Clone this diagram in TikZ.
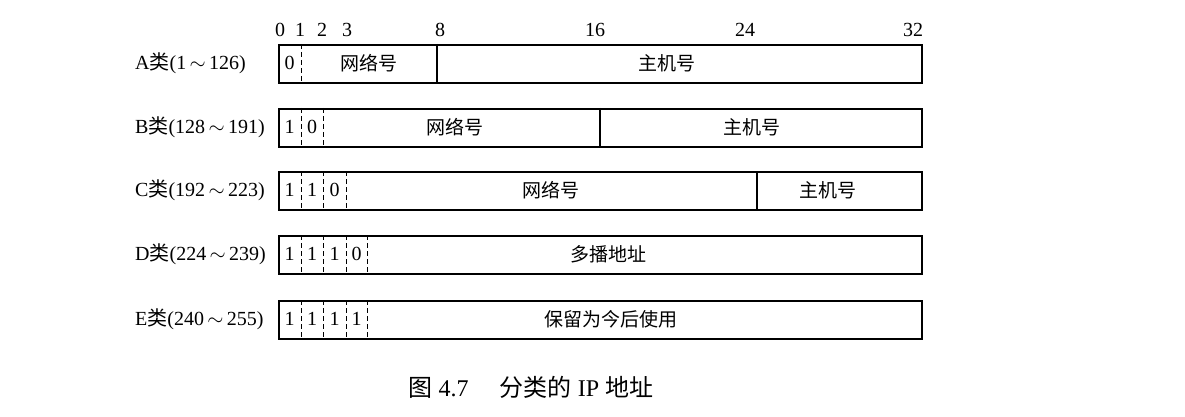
\documentclass[tikz,border=0pt]{standalone}
\usepackage{fontspec}
\setmainfont{Liberation Serif}
\newfontfamily\cjk{Noto Sans CJK SC}
\begin{document}
\begin{tikzpicture}[x=1pt,y=-1pt,
  rowbox/.style={draw, line width=1.6pt, minimum width=643pt, minimum height=38pt, anchor=north west, inner sep=0pt},
  dashdiv/.style={line width=0.9pt, dash pattern=on 5pt off 3pt},
  soliddiv/.style={line width=1.3pt},
  txt/.style={font=\fontsize{20}{22}\selectfont, inner sep=0pt},
  cjktxt/.style={font=\cjk\fontsize{19}{22}\selectfont, inner sep=0pt},
  rowlbl/.style={font=\fontsize{20}{22}\selectfont, inner sep=0pt, anchor=west}
]
\useasboundingbox (0,0) rectangle (1185,417);

% bit positions
\foreach \n/\x in {0/280,1/300,2/322,3/347,8/440,16/595,24/745,32/913}
  \node[txt] (bit\n) at (\x,30) {\n};

% row A
\node[rowbox] (rA) at (278,44) {};
\node[rowlbl] (lA) at (135,63) {A{\cjk 类}(1\,$\sim$\,126)};
\draw[dashdiv] (301,44) -- (301,82);
\draw[soliddiv] (437,44) -- (437,82);
\node[txt] (a0) at (289.5,63) {0};
\node[cjktxt] (anet) at (369,63) {网络号};
\node[cjktxt] (ahost) at (667,63) {主机号};

% row B
\node[rowbox] (rB) at (278,108) {};
\node[rowlbl] (lB) at (135,127) {B{\cjk 类}(128\,$\sim$\,191)};
\draw[dashdiv] (301,108) -- (301,146);
\draw[dashdiv] (323,108) -- (323,146);
\draw[soliddiv] (600,108) -- (600,146);
\node[txt] (b0) at (289.5,127) {1};
\node[txt] (b1) at (312,127) {0};
\node[cjktxt] (bnet) at (455,127) {网络号};
\node[cjktxt] (bhost) at (752,127) {主机号};

% row C
\node[rowbox] (rC) at (278,171) {};
\node[rowlbl] (lC) at (135,190) {C{\cjk 类}(192\,$\sim$\,223)};
\draw[dashdiv] (301,171) -- (301,209);
\draw[dashdiv] (323,171) -- (323,209);
\draw[dashdiv] (346,171) -- (346,209);
\draw[soliddiv] (757,171) -- (757,209);
\node[txt] (c0) at (289.5,190) {1};
\node[txt] (c1) at (312,190) {1};
\node[txt] (c2) at (334.5,190) {0};
\node[cjktxt] (cnet) at (551,190) {网络号};
\node[cjktxt] (chost) at (828,190) {主机号};

% row D
\node[rowbox] (rD) at (278,235) {};
\node[rowlbl] (lD) at (135,254) {D{\cjk 类}(224\,$\sim$\,239)};
\draw[dashdiv] (301,235) -- (301,273);
\draw[dashdiv] (323,235) -- (323,273);
\draw[dashdiv] (346,235) -- (346,273);
\draw[dashdiv] (367,235) -- (367,273);
\node[txt] (d0) at (289.5,254) {1};
\node[txt] (d1) at (312,254) {1};
\node[txt] (d2) at (334.5,254) {1};
\node[txt] (d3) at (356.5,254) {0};
\node[cjktxt] (dtxt) at (608,254) {多播地址};

% row E
\node[rowbox] (rE) at (278,300) {};
\node[rowlbl] (lE) at (135,319) {E{\cjk 类}(240\,$\sim$\,255)};
\draw[dashdiv] (301,300) -- (301,338);
\draw[dashdiv] (323,300) -- (323,338);
\draw[dashdiv] (346,300) -- (346,338);
\draw[dashdiv] (367,300) -- (367,338);
\node[txt] (e0) at (289.5,319) {1};
\node[txt] (e1) at (312,319) {1};
\node[txt] (e2) at (334.5,319) {1};
\node[txt] (e3) at (356.5,319) {1};
\node[cjktxt] (etxt) at (611,319) {保留为今后使用};

% caption
\node[font=\fontsize{24}{27}\selectfont, inner sep=0pt] (cap) at (531,387)
  {{\cjk 图} 4.7\hspace{1.3em}{\cjk 分类的} IP {\cjk 地址}};
\end{tikzpicture}
\end{document}
